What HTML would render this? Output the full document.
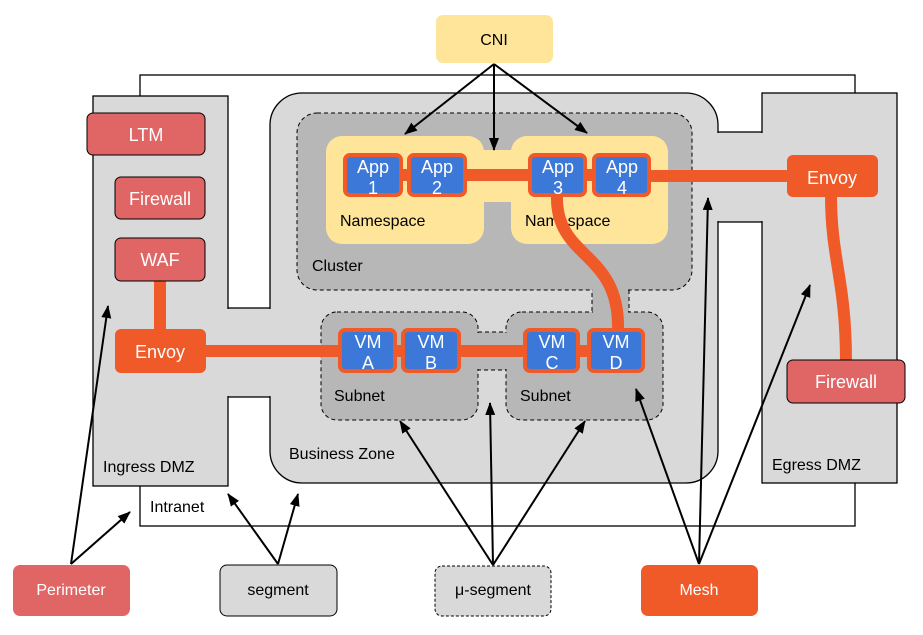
<!DOCTYPE html>
<html><head><meta charset="utf-8"><style>
html,body{margin:0;padding:0;background:#fff;}
svg{display:block;}
text{font-family:"Liberation Sans",sans-serif;}
</style></head><body>
<svg width="923" height="635" viewBox="0 0 923 635" xmlns="http://www.w3.org/2000/svg">
<defs>
<marker id="ah" markerWidth="13" markerHeight="12" refX="12" refY="6" orient="auto" markerUnits="userSpaceOnUse">
<path d="M0,1 L13,6 L0,11 Z" fill="#000"/>
</marker>
</defs>
<rect x="140" y="75" width="715" height="451" fill="#fff" stroke="#000" stroke-width="1.3"/>
<rect x="226" y="308" width="46" height="89" fill="#d9d9d9" stroke="#000" stroke-width="1.3"/>
<rect x="716" y="132" width="48" height="90" fill="#d9d9d9" stroke="#000" stroke-width="1.3"/>
<rect x="93" y="96" width="135" height="390" fill="#d9d9d9" stroke="#000" stroke-width="1.3"/>
<rect x="762" y="93" width="135" height="390" fill="#d9d9d9" stroke="#000" stroke-width="1.3"/>
<rect x="270" y="93" width="448" height="390" rx="32" fill="#d9d9d9" stroke="#000" stroke-width="1.3"/>
<rect x="226" y="309" width="46" height="87" fill="#d9d9d9"/>
<rect x="716" y="133" width="48" height="88" fill="#d9d9d9"/>
<rect x="592" y="285" width="37" height="32" fill="#b7b7b7" stroke="#000" stroke-dasharray="4,3" stroke-width="1"/>
<rect x="478" y="332" width="28" height="38" fill="#b7b7b7" stroke="#000" stroke-dasharray="4,3" stroke-width="1"/>
<rect x="297" y="113" width="395" height="177" rx="20" fill="#b7b7b7" stroke="#000" stroke-dasharray="4,3" stroke-width="1"/>
<rect x="321" y="312" width="157" height="108" rx="16" fill="#b7b7b7" stroke="#000" stroke-dasharray="4,3" stroke-width="1"/>
<rect x="506" y="312" width="157" height="108" rx="16" fill="#b7b7b7" stroke="#000" stroke-dasharray="4,3" stroke-width="1"/>
<rect x="593" y="286" width="35" height="30" fill="#b7b7b7"/>
<rect x="475" y="333" width="34" height="36" fill="#b7b7b7"/>
<rect x="480" y="150" width="35" height="52" fill="#ffe599"/>
<rect x="326" y="136" width="158" height="108" rx="16" fill="#ffe599"/>
<rect x="511" y="136" width="157" height="108" rx="16" fill="#ffe599"/>
<g fill="#000" font-size="16">
<text x="340" y="226">Namespace</text>
<text x="525" y="226">Namespace</text>
<text x="312" y="271">Cluster</text>
<text x="334" y="401">Subnet</text>
<text x="520" y="401">Subnet</text>
<text x="289" y="459">Business Zone</text>
<text x="103" y="472">Ingress DMZ</text>
<text x="772" y="470">Egress DMZ</text>
<text x="150" y="512">Intranet</text>
</g>
<g stroke="#f05a28" stroke-width="12" fill="none">
<line x1="160" y1="278" x2="160" y2="332"/>
<line x1="200" y1="351" x2="340" y2="351"/>
<line x1="395" y1="351" x2="405" y2="351"/>
<line x1="460" y1="351" x2="525" y2="351"/>
<line x1="580" y1="351" x2="590" y2="351"/>
<line x1="400" y1="175" x2="410" y2="175"/>
<line x1="465" y1="175" x2="530" y2="175"/>
<line x1="585" y1="175" x2="595" y2="175"/>
<path d="M648,176 L700,176 L790,176"/>
<path d="M557,195 C555,260 620,250 618,330"/>
<path d="M831,195 C831,260 846,280 846,362"/>
</g>
<g fill="#e06666" stroke="#000" stroke-width="1">
<rect x="87" y="113" width="118" height="42" rx="6"/>
<rect x="115" y="177" width="90" height="42" rx="6"/>
<rect x="115" y="238" width="90" height="43" rx="6"/>
<rect x="787" y="360" width="118" height="43" rx="6"/>
</g>
<rect x="115" y="329" width="91" height="44" rx="6" fill="#f05a28"/>
<rect x="787" y="155" width="91" height="42" rx="6" fill="#f05a28"/>
<g fill="#3c78d8" stroke="#f05a28" stroke-width="4">
<rect x="345" y="155" width="56" height="40" rx="5"/>
<rect x="409" y="155" width="56" height="40" rx="5"/>
<rect x="530" y="155" width="55" height="40" rx="5"/>
<rect x="594" y="155" width="55" height="40" rx="5"/>
<rect x="340" y="330" width="55" height="41" rx="5"/>
<rect x="403" y="330" width="56" height="41" rx="5"/>
<rect x="525" y="330" width="53" height="41" rx="5"/>
<rect x="589" y="330" width="54" height="41" rx="5"/>
</g>
<g fill="#fff" font-size="18" text-anchor="middle">
<text x="373" y="173">App</text><text x="373" y="194">1</text>
<text x="437" y="173">App</text><text x="437" y="194">2</text>
<text x="558" y="173">App</text><text x="558" y="194">3</text>
<text x="622" y="173">App</text><text x="622" y="194">4</text>
<text x="368" y="348">VM</text><text x="368" y="369">A</text>
<text x="431" y="348">VM</text><text x="431" y="369">B</text>
<text x="552" y="348">VM</text><text x="552" y="369">C</text>
<text x="616" y="348">VM</text><text x="616" y="369">D</text>
<text x="146" y="141">LTM</text>
<text x="160" y="205">Firewall</text>
<text x="160" y="266">WAF</text>
<text x="160" y="358">Envoy</text>
<text x="832" y="184">Envoy</text>
<text x="846" y="388">Firewall</text>
</g>
<rect x="436" y="15" width="117" height="48" rx="7" fill="#ffe599"/>
<text x="494" y="45" font-size="16" text-anchor="middle">CNI</text>
<rect x="13" y="565" width="117" height="51" rx="7" fill="#e06666"/>
<text x="71" y="595" font-size="16" text-anchor="middle" fill="#fff">Perimeter</text>
<rect x="220" y="565" width="117" height="51" rx="7" fill="#d9d9d9" stroke="#000" stroke-width="1"/>
<text x="278" y="595" font-size="16" text-anchor="middle">segment</text>
<rect x="435" y="566" width="116" height="50" rx="7" fill="#d9d9d9" stroke="#000" stroke-width="1" stroke-dasharray="3,2"/>
<text x="493" y="595" font-size="16" text-anchor="middle">μ-segment</text>
<rect x="641" y="565" width="117" height="51" rx="7" fill="#f05a28"/>
<text x="699" y="595" font-size="16" text-anchor="middle" fill="#fff">Mesh</text>
<g stroke="#000" stroke-width="2" fill="none" marker-end="url(#ah)">
<line x1="494" y1="64" x2="405" y2="134"/>
<line x1="494" y1="64" x2="494" y2="150"/>
<line x1="494" y1="64" x2="587" y2="133"/>
<line x1="71" y1="564" x2="108" y2="306"/>
<line x1="71" y1="564" x2="130" y2="512"/>
<line x1="278" y1="564" x2="228" y2="494"/>
<line x1="278" y1="564" x2="298" y2="494"/>
<line x1="493" y1="565" x2="400" y2="421"/>
<line x1="493" y1="565" x2="490" y2="403"/>
<line x1="493" y1="565" x2="585" y2="421"/>
<line x1="699" y1="564" x2="636" y2="389"/>
<line x1="699" y1="564" x2="708" y2="198"/>
<line x1="699" y1="564" x2="810" y2="285"/>
</g>
</svg>
</body></html>
